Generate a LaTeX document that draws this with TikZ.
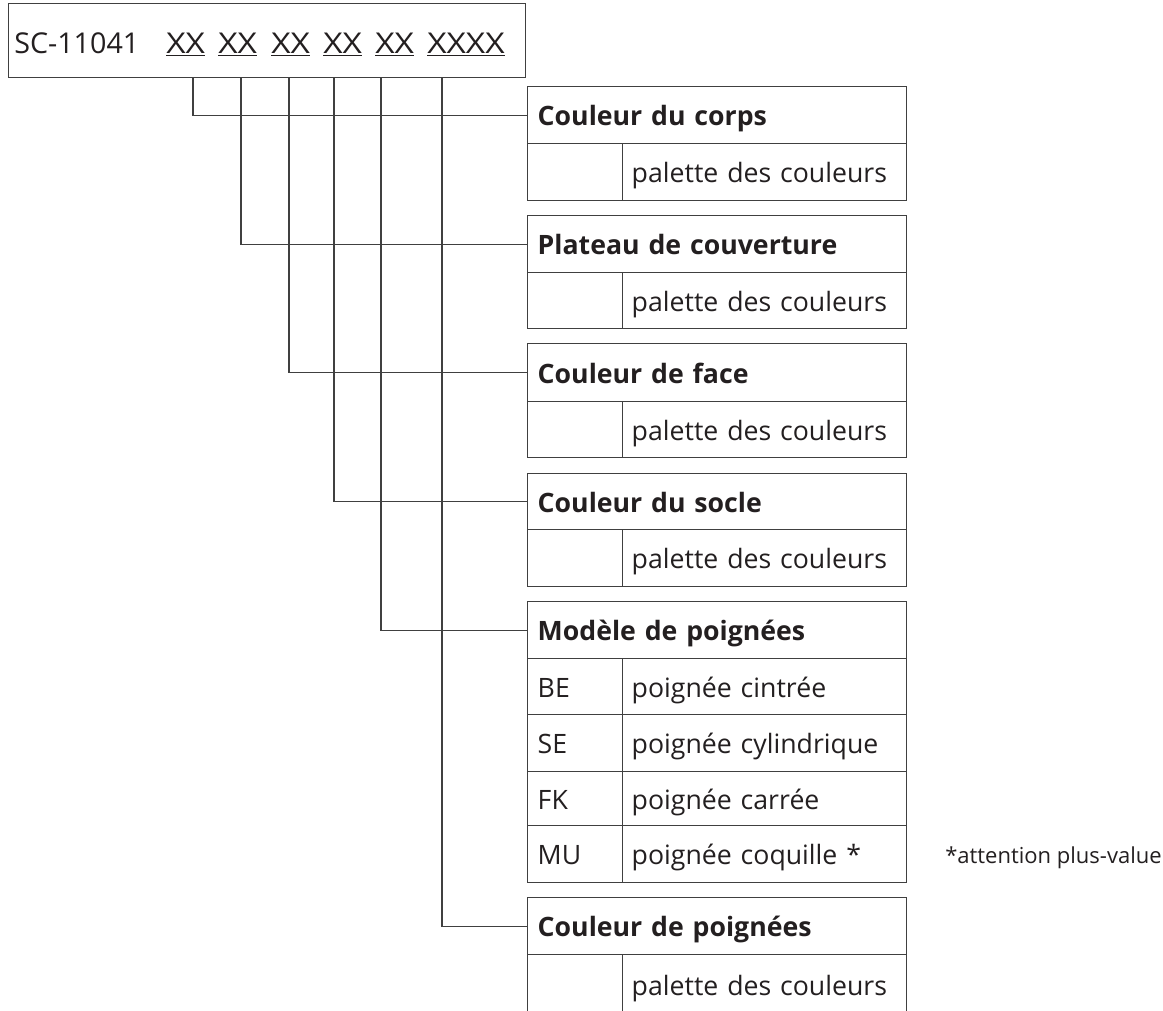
\documentclass[tikz,border=0pt]{standalone}
\usepackage{fontspec}
\setmainfont{Open Sans}
\definecolor{ink}{HTML}{231F20}
\definecolor{linec}{HTML}{404040}
\begin{document}
\begin{tikzpicture}[x=0.75pt,y=-0.75pt,
  cell/.style={draw=linec, line width=1.1pt, anchor=north west, inner ysep=0pt,
    text height=16pt, text depth=0pt, align=left, text=ink},
  hdr/.style={cell, minimum height=#1*0.75pt, inner xsep=7.5pt, text width=269.25pt,
    font=\fontsize{20}{24}\selectfont\bfseries},
  codecell/.style={cell, minimum height=#1*0.75pt, inner xsep=7.5pt, text width=56.25pt,
    font=\fontsize{20}{24}\selectfont},
  desccell/.style={cell, minimum height=#1*0.75pt, inner xsep=6.75pt, text width=199.5pt,
    font=\fontsize{20}{24}\selectfont},
  conn/.style={draw=linec, line width=1.1pt},
  xxlab/.style={anchor=base west, inner sep=0pt, text=ink, font=\fontsize{21.5}{25}\selectfont}]
\useasboundingbox (0,0) rectangle (1163,1010);
\fill[white] (0,0) rectangle (1163,1010);
\clip (0,0) rectangle (1163,1010);

% code box
\node[draw=linec, line width=1.1pt, anchor=north west, inner sep=0pt,
  minimum width=517*0.75pt, minimum height=74*0.75pt] (sc) at (8,3) {};
\node[xxlab] (code) at (14,53) {SC-11041};
\node[xxlab] (x1) at (166,53) {\scalebox{1.17}[1]{\underline{XX}}};
\node[xxlab] (x2) at (218,53) {\scalebox{1.17}[1]{\underline{XX}}};
\node[xxlab] (x3) at (271,53) {\scalebox{1.17}[1]{\underline{XX}}};
\node[xxlab] (x4) at (323,53) {\scalebox{1.17}[1]{\underline{XX}}};
\node[xxlab] (x5) at (375,53) {\scalebox{1.17}[1]{\underline{XX}}};
\node[xxlab] (x6) at (427,53) {\scalebox{1.17}[1]{\underline{XXXX}}};

% table 1
\node[hdr=57] (h1) at (527,86) {Couleur du corps};
\node[codecell=57] (c1) at (527,143) {};
\node[desccell=57] (d1) at (622,143) {palette des couleurs};
% table 2
\node[hdr=57] (h2) at (527,215) {Plateau de couverture};
\node[codecell=56] (c2) at (527,272) {};
\node[desccell=56] (d2) at (622,272) {palette des couleurs};
% table 3
\node[hdr=58] (h3) at (527,343) {Couleur de face};
\node[codecell=56] (c3) at (527,401) {};
\node[desccell=56] (d3) at (622,401) {palette des couleurs};
% table 4
\node[hdr=56] (h4) at (527,473) {Couleur du socle};
\node[codecell=57] (c4) at (527,529) {};
\node[desccell=57] (d4) at (622,529) {palette des couleurs};
% table 5
\node[hdr=57] (h5) at (527,601) {Modèle de poignées};
\node[codecell=56] (c5a) at (527,658) {BE};
\node[desccell=56] (d5a) at (622,658) {poignée cintrée};
\node[codecell=57] (c5b) at (527,714) {SE};
\node[desccell=57] (d5b) at (622,714) {poignée cylindrique};
\node[codecell=54] (c5c) at (527,771) {FK};
\node[desccell=54] (d5c) at (622,771) {poignée carrée};
\node[codecell=57] (c5d) at (527,825) {MU};
\node[desccell=57] (d5d) at (622,825) {poignée coquille *};
% table 6
\node[hdr=57] (h6) at (527,897) {Couleur de poignées};
\node[codecell=60] (c6) at (527,954) {};
\node[desccell=60] (d6) at (622,954) {palette des couleurs};

% note
\node[anchor=base west, inner sep=0pt, text=ink, font=\fontsize{16.5}{20}\selectfont] (note) at (945,863) {*attention plus-value};

% connectors
\coordinate (s1) at (193,77);
\coordinate (s2) at (241,77);
\coordinate (s3) at (289,77);
\coordinate (s4) at (334,77);
\coordinate (s5) at (381,77);
\coordinate (s6) at (442,77);
\draw[conn] (s1) |- (h1.west);
\draw[conn] (s2) |- (h2.west);
\draw[conn] (s3) |- (h3.west);
\draw[conn] (s4) |- (h4.west);
\draw[conn] (s5) |- (h5.west);
\draw[conn] (s6) |- (h6.west);
\end{tikzpicture}
\end{document}
